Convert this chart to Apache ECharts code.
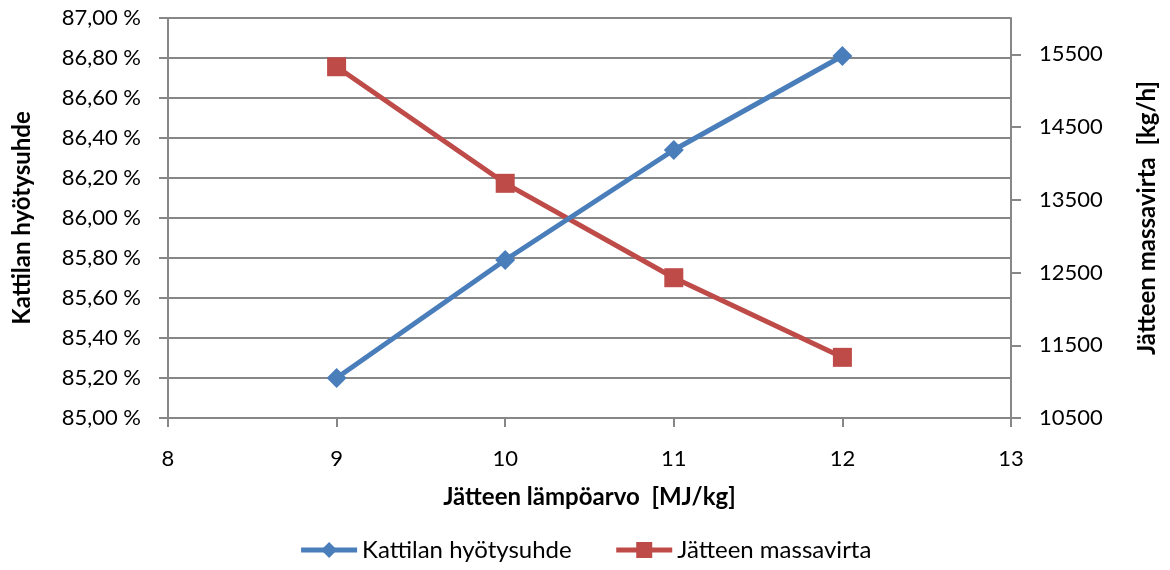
<!DOCTYPE html>
<html>
<head>
<meta charset="utf-8">
<script src="https://cdn.jsdelivr.net/npm/echarts@6/dist/echarts.min.js"></script>
<style>
  html, body { margin: 0; padding: 0; background: #fff; }
  #chart { width: 1170px; height: 570px; }
</style>
</head>
<body>
<div id="chart"></div>
<script>
// Heating value of waste [MJ/kg]
const heatingValues = [9, 10, 11, 12];
// Boiler efficiency [%]
const boilerEfficiency = [85.20, 85.79, 86.34, 86.81];
// Waste mass flow [kg/h]
const wasteMassFlow = [15330, 13727, 12429, 11334];
// Right axis tick labels
const massFlowTicks = [10500, 11500, 12500, 13500, 14500, 15500];

const FONT = 'Lato';
const GRID_GRAY = '#878787';
const BLUE = '#4A7EBB';
const RED = '#BE4B48';
const LABEL_SIZE = 22;
const LEGEND_SIZE = 24;
const TITLE_SIZE = 24;

const chart = echarts.init(document.getElementById('chart'), null, { renderer: 'canvas' });

chart.setOption({
  animation: false,
  textStyle: { fontFamily: FONT, color: '#000' },
  grid: { left: 168, right: 159, top: 18, bottom: 152, containLabel: false, outerBoundsMode: 'none' },
  legend: {
    bottom: 3,
    left: 'center',
    itemWidth: 56,
    itemHeight: 20,
    itemGap: 42,
    lineStyle: { width: 5 },
    textStyle: { fontFamily: FONT, fontSize: LEGEND_SIZE, color: '#000' },
    data: ['Kattilan hyötysuhde', 'Jätteen massavirta']
  },
  xAxis: {
    type: 'value',
    min: 8, max: 13, interval: 1,
    name: 'Jätteen lämpöarvo  [MJ/kg]',
    nameLocation: 'middle',
    nameGap: 67,
    nameTextStyle: { fontFamily: FONT, fontSize: TITLE_SIZE, fontWeight: 'bold', color: '#000' },
    axisLine: { show: true, lineStyle: { color: GRID_GRAY, width: 2 } },
    axisTick: { show: true, inside: false, length: 9, lineStyle: { color: GRID_GRAY, width: 2 } },
    axisLabel: { fontFamily: FONT, fontSize: LABEL_SIZE, color: '#000', margin: 30 },
    splitLine: { show: false }
  },
  yAxis: [
    {
      type: 'value',
      position: 'left',
      min: 85, max: 87, interval: 0.2,
      name: 'Kattilan hyötysuhde',
      nameLocation: 'middle',
      nameGap: 134,
      nameRotate: 90,
      nameTextStyle: { fontFamily: FONT, fontSize: TITLE_SIZE, fontWeight: 'bold', color: '#000' },
      axisLine: { show: true, lineStyle: { color: GRID_GRAY, width: 2 } },
      axisTick: { show: true, inside: false, length: 9, lineStyle: { color: GRID_GRAY, width: 2 } },
      axisLabel: {
        fontFamily: FONT, fontSize: LABEL_SIZE, color: '#000', margin: 27,
        formatter: v => v.toFixed(2).replace('.', ',') + ' %'
      },
      splitLine: { show: true, lineStyle: { color: GRID_GRAY, width: 2 } }
    },
    {
      type: 'value',
      position: 'right',
      min: 10500, max: 16000,
      name: 'Jätteen massavirta  [kg/h]',
      nameLocation: 'middle',
      nameGap: 124,
      nameRotate: 90,
      nameTextStyle: { fontFamily: FONT, fontSize: TITLE_SIZE, fontWeight: 'bold', color: '#000' },
      axisLine: { show: true, lineStyle: { color: GRID_GRAY, width: 2 } },
      axisTick: {
        show: true, inside: false, length: 10,
        customValues: massFlowTicks,
        lineStyle: { color: GRID_GRAY, width: 2 }
      },
      axisLabel: {
        fontFamily: FONT, fontSize: LABEL_SIZE, color: '#000', margin: 28,
        customValues: massFlowTicks,
        formatter: v => String(v)
      },
      splitLine: { show: false }
    }
  ],
  series: [
    {
      name: 'Kattilan hyötysuhde',
      type: 'line',
      yAxisIndex: 0,
      data: heatingValues.map((x, i) => [x, boilerEfficiency[i]]),
      symbol: 'diamond',
      symbolSize: 20,
      lineStyle: { color: BLUE, width: 5 },
      itemStyle: { color: BLUE },
      z: 3
    },
    {
      name: 'Jätteen massavirta',
      type: 'line',
      yAxisIndex: 1,
      data: heatingValues.map((x, i) => [x, wasteMassFlow[i]]),
      symbol: 'rect',
      symbolSize: 19,
      lineStyle: { color: RED, width: 5 },
      itemStyle: { color: RED },
      z: 2
    }
  ]
});
</script>
</body>
</html>
